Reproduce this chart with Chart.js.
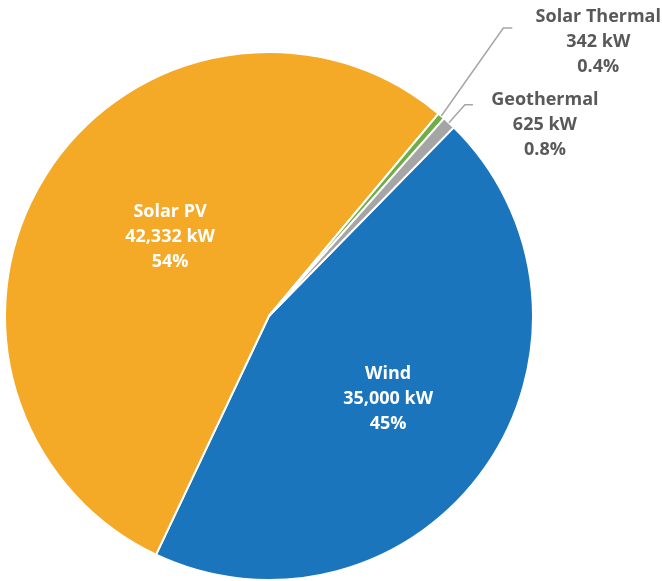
<!DOCTYPE html>
<html>
<head>
<meta charset="utf-8">
<script src="https://cdn.jsdelivr.net/npm/chart.js@4"></script>
<style>
  html, body { margin: 0; padding: 0; background: #fff; }
</style>
</head>
<body>
<canvas id="myChart" width="662" height="581"></canvas>
<script>
const sources = ["Wind", "Solar PV", "Solar Thermal", "Geothermal"];
const capacityKw = [35000, 42332, 342, 625];
const sliceColors = ["#1a75bc", "#f4a927", "#70ad47", "#a5a5a5"];

const total = capacityKw.reduce((a, b) => a + b, 0);

function pctText(v) {
  const p = (v / total) * 100;
  return p < 1 ? p.toFixed(1) + "%" : Math.round(p) + "%";
}

// where each label goes (inside = on the slice, outside = with leader line)
const labelPlacement = [
  { inside: true, frac: 0.55, dx: 0, dy: 0 },
  { inside: true, frac: 0.49, dx: 10, dy: -9 },
  { inside: false, text: [157, -74], elbow: [62, -88], end: [71, -88] },
  { inside: false, text: [96, 2], elbow: [16, -18], end: [24, -18] },
];

const sliceLabels = {
  id: "sliceLabels",
  afterDatasetsDraw(chart) {
    const ctx = chart.ctx;
    const meta = chart.getDatasetMeta(0);
    ctx.save();
    ctx.font = "bold 18px 'Open Sans'";
    ctx.textAlign = "center";
    ctx.textBaseline = "middle";
    meta.data.forEach((arc, i) => {
      const p = arc.getProps(["x", "y", "startAngle", "endAngle", "outerRadius"], true);
      const mid = (p.startAngle + p.endAngle) / 2;
      const lines = [sources[i], capacityKw[i].toLocaleString("en-US") + " kW", pctText(capacityKw[i])];
      const opt = labelPlacement[i];
      let cx, cy;
      if (opt.inside) {
        const r = p.outerRadius * opt.frac;
        cx = p.x + Math.cos(mid) * r + opt.dx;
        cy = p.y + Math.sin(mid) * r + opt.dy;
        ctx.fillStyle = "#ffffff";
      } else {
        const ex = p.x + Math.cos(mid) * p.outerRadius;
        const ey = p.y + Math.sin(mid) * p.outerRadius;
        ctx.strokeStyle = "#a6a6a6";
        ctx.lineWidth = 1.5;
        ctx.beginPath();
        ctx.moveTo(ex, ey);
        ctx.lineTo(ex + opt.elbow[0], ey + opt.elbow[1]);
        ctx.lineTo(ex + opt.end[0], ey + opt.end[1]);
        ctx.stroke();
        cx = ex + opt.text[0];
        cy = ey + opt.text[1];
        ctx.fillStyle = "#595959";
      }
      lines.forEach((t, k) => {
        ctx.fillText(t, cx, cy + (k - 1) * 25);
      });
    });
    ctx.restore();
  },
};

const ctx = document.getElementById("myChart");

new Chart(ctx, {
  type: "pie",
  data: {
    labels: sources,
    datasets: [
      {
        data: capacityKw,
        backgroundColor: sliceColors,
        borderColor: "#ffffff",
        borderWidth: 2,
      },
    ],
  },
  options: {
    responsive: false,
    animation: false,
    rotation: 44.4,
    layout: {
      padding: { left: 0, right: 124, top: 51, bottom: 0 },
    },
    plugins: {
      legend: { display: false },
      tooltip: { enabled: false },
    },
  },
  plugins: [sliceLabels],
});
</script>
</body>
</html>
